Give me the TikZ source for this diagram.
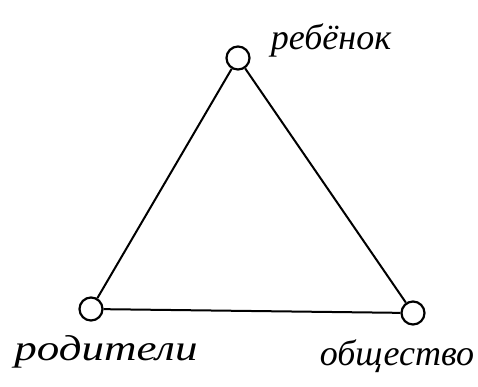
\documentclass[tikz,border=0pt]{standalone}
\usepackage{fontspec}
\setmainfont{Liberation Serif}
\begin{document}
\begin{tikzpicture}[x=1pt,y=-1pt,
  vertex/.style={circle,draw,line width=2.2pt,minimum size=23pt,inner sep=0pt,fill=white},
  edge/.style={line width=2pt},
  lbl/.style={font=\itshape\fontsize{36}{38}\selectfont,inner sep=0pt}]
\useasboundingbox (0,0) rectangle (478,386);
\node[vertex] (c) at (238,58) {};
\node[vertex] (p) at (91,309) {};
\node[vertex] (s) at (413,313) {};
\draw[edge] (c) -- (p);
\draw[edge] (p) -- (s);
\draw[edge] (c) -- (s);
\node[lbl] (lc) at (331,40) {ребёнок};
\node[lbl,xscale=1.25] (lp) at (106,352) {родители};
\node[lbl] (ls) at (397,356) {общество};
\end{tikzpicture}
\end{document}
